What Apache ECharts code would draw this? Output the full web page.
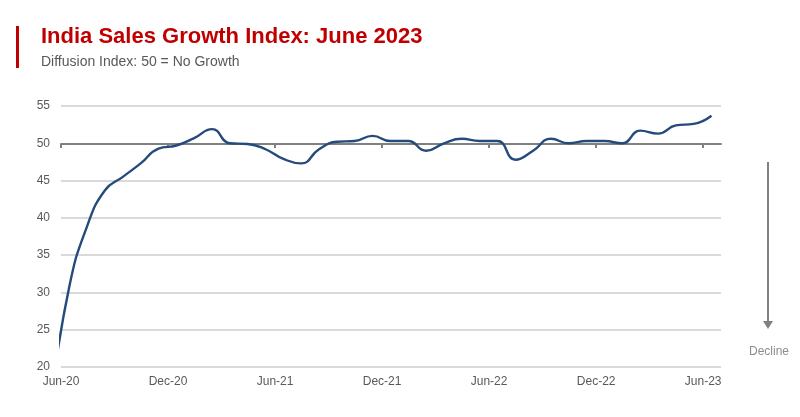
<!DOCTYPE html>
<html>
<head>
<meta charset="utf-8">
<script src="https://cdn.jsdelivr.net/npm/echarts@6/dist/echarts.min.js"></script>
<style>html,body{margin:0;padding:0;background:#fff}#c{width:800px;height:417px}</style>
</head>
<body>
<div id="c"></div>
<script>
// Monthly readings (mid-month); the May-20 point lies before the axis start and is clipped
const months = ['2020-05','2020-06','2020-07','2020-08','2020-09','2020-10','2020-11','2020-12',
  '2021-01','2021-02','2021-03','2021-04','2021-05','2021-06','2021-07','2021-08','2021-09','2021-10','2021-11','2021-12',
  '2022-01','2022-02','2022-03','2022-04','2022-05','2022-06','2022-07','2022-08','2022-09','2022-10','2022-11','2022-12',
  '2023-01','2023-02','2023-03','2023-04','2023-05','2023-06'];
const values = [16, 30.8, 38.9, 43.7, 45.5, 47.3, 49.3, 49.7,
  50.7, 51.9, 50.0, 49.9, 49.2, 47.9, 47.3, 49.2, 50.2, 50.3, 51.0, 50.3,
  50.3, 49.0, 50.0, 50.6, 50.3, 50.3, 47.8, 49.0, 50.6, 50.0, 50.3, 50.3,
  50.0, 51.7, 51.3, 52.4, 52.6, 53.7];
const tickLabels = ['Jun-20','Dec-20','Jun-21','Dec-21','Jun-22','Dec-22','Jun-23'];
const yTicks = [20, 25, 30, 35, 40, 45, 50, 55];

// month offset from 1 Jun 2020, data dated the 15th
function monthPos(s) {
  const [y, m] = s.split('-').map(Number);
  return (y - 2020) * 12 + (m - 6) + 14 / 30;
}
const seriesData = months.map((m, i) => [monthPos(m), values[i]]);
const tickPos = tickLabels.map((_, i) => i * 6);

const chart = echarts.init(document.getElementById('c'), null, {renderer: 'canvas'});
const font = "'Liberation Sans', Arial, sans-serif";
chart.setOption({
  animation: false,
  backgroundColor: '#ffffff',
  title: {
    text: 'India Sales Growth Index: June 2023',
    subtext: 'Diffusion Index: 50 = No Growth',
    left: 36, top: 21, itemGap: 7,
    textStyle: {fontFamily: font, fontSize: 22, fontWeight: 'bold', color: '#c00000'},
    subtextStyle: {fontFamily: font, fontSize: 14, color: '#595959'}
  },
  grid: [
    {left: 61, right: 79, top: 106, bottom: 50},
    {left: 61, right: 79, top: 143, height: 1}
  ],
  xAxis: [
    {
      type: 'value', gridIndex: 0, min: 0, max: 37,
      axisLine: {show: false}, axisTick: {show: false}, splitLine: {show: false},
      axisLabel: {
        customValues: tickPos, margin: 9,
        fontFamily: font, fontSize: 12, color: '#595959',
        formatter: v => tickLabels[Math.round(v / 6)] || ''
      }
    },
    {
      type: 'value', gridIndex: 1, min: 0, max: 37, position: 'bottom',
      axisLine: {show: true, lineStyle: {color: '#808080', width: 2}},
      axisTick: {show: true, customValues: tickPos, length: 4, lineStyle: {color: '#808080', width: 2}},
      axisLabel: {show: false}, splitLine: {show: false}
    }
  ],
  yAxis: [
    {
      type: 'value', gridIndex: 0, min: 20, max: 55, interval: 5,
      axisLine: {show: false}, axisTick: {show: false},
      axisLabel: {margin: 11, fontFamily: font, fontSize: 12, color: '#595959',
        formatter: v => yTicks.includes(v) ? String(v) : ''},
      splitLine: {lineStyle: {color: '#d9d9d9', width: 2}}
    },
    {
      type: 'value', gridIndex: 1, min: 0, max: 1, show: false
    }
  ],
  series: [{
    type: 'line', xAxisIndex: 0, yAxisIndex: 0,
    data: seriesData, smooth: 0.5, showSymbol: false, clip: true,
    lineStyle: {color: '#254a7c', width: 2.4}, z: 5
  }],
  graphic: [
    {type: 'rect', left: 16, top: 26, shape: {width: 3, height: 42}, style: {fill: '#c00000'}},
    {type: 'line', shape: {x1: 768, y1: 162, x2: 768, y2: 321}, style: {stroke: '#808080', lineWidth: 2}},
    {type: 'polygon', shape: {points: [[763, 321], [773, 321], [768, 329]]}, style: {fill: '#808080'}},
    {type: 'text', x: 769, y: 352, style: {text: 'Decline', font: "12px 'Liberation Sans', Arial, sans-serif", fill: '#8c8c8c', align: 'center', verticalAlign: 'middle'}}
  ]
});
</script>
</body>
</html>
